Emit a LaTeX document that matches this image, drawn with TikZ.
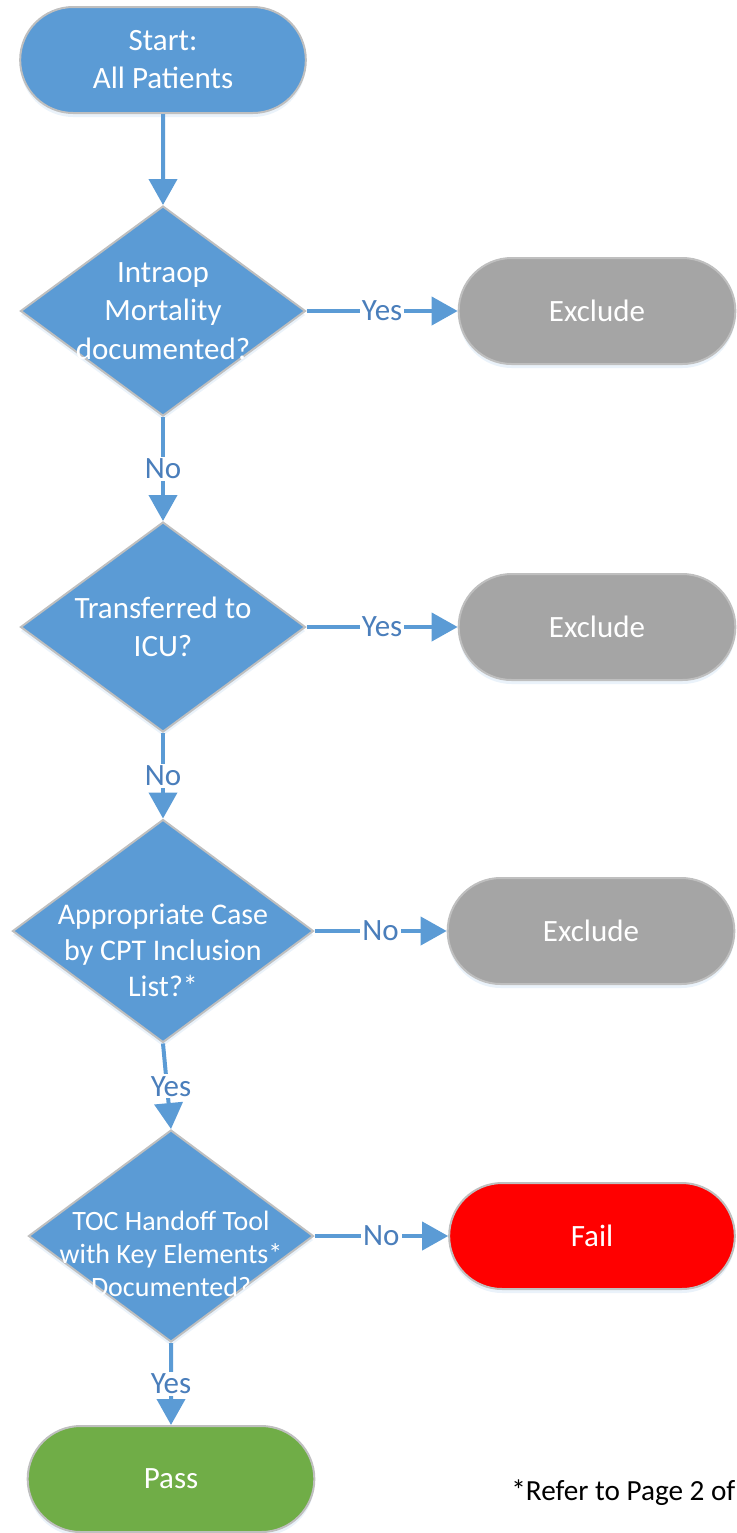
\documentclass[tikz,border=0pt]{standalone}
\usepackage{fontspec}
\setmainfont{Carlito}
\usepackage{tikz}
\usetikzlibrary{shapes.geometric, shapes.misc, arrows.meta, shadows}
\definecolor{flowblue}{HTML}{5B9BD5}
\definecolor{lblblue}{HTML}{4A7EBB}
\definecolor{rimgray}{HTML}{BFBFBF}
\definecolor{exgray}{HTML}{A5A5A5}
\definecolor{failred}{HTML}{FF0000}
\definecolor{passgreen}{HTML}{70AD47}
\begin{document}
\begin{tikzpicture}[x=0.5pt, y=-0.5pt,
  soft/.style={drop shadow={shadow xshift=0pt, shadow yshift=-2pt, opacity=0.25, fill=flowblue!50}},
  term/.style={rounded rectangle, draw=rimgray, line width=1pt, soft,
               minimum height=53pt, text=white, align=center,
               font=\fontsize{15.5}{19}\selectfont},
  decision/.style={diamond, draw=rimgray, line width=1pt, soft, fill=flowblue,
               inner sep=0pt, minimum width=142.5pt, minimum height=105pt},
  dtext/.style={text=white, align=center, font=\fontsize{15.5}{19.25}\selectfont},
  flow/.style={draw=flowblue, line width=2pt, -{Triangle[length=13pt, width=14pt]}},
  lbl/.style={fill=white, inner sep=1pt, text=lblblue, font=\fontsize{15.5}{18}\selectfont},
  note/.style={font=\fontsize{14.6}{18}\selectfont, inner sep=0pt}]
\useasboundingbox (0,0) rectangle (737,1533);
%
% terminals
\node[term, fill=flowblue, minimum width=149.5pt] (start) at (163,60) {Start:\\All Patients};
\node[term, fill=exgray, minimum width=145pt] (ex1) at (597,311) {Exclude};
\node[term, fill=exgray, minimum width=145pt] (ex2) at (597,627) {Exclude};
\node[term, fill=exgray, minimum width=150pt] (ex3) at (591,931) {Exclude};
\node[term, fill=failred, minimum width=149.5pt] (fail) at (592,1236) {Fail};
\node[term, fill=passgreen, minimum width=150pt] (pass) at (171,1479) {Pass};
%
% decisions
\node[decision] (d1) at (163,311) {};
\node[dtext] (d1t) at (d1) {Intraop\\Mortality\\documented?};
\node[decision] (d2) at (163,627) {};
\node[dtext] (d2t) at (d2) {Transferred to\\ICU?};
\node[decision, minimum width=150.5pt, minimum height=111.5pt] (d3) at (163,931) {};
\node[dtext, yshift=-9.5pt, font=\fontsize{15}{18}\selectfont] (d3t) at (d3) {Appropriate Case\\by CPT Inclusion\\List?*};
\node[decision, minimum height=106pt] (d4) at (171,1236) {};
\node[dtext, yshift=-9pt, font=\fontsize{14}{16.5}\selectfont] (d4t) at (d4) {TOC Handoff Tool\\with Key Elements*\\Documented?};
%
\node[note, anchor=base west] (fn) at (511,1500) {*Refer to Page 2 of};
%
% connectors
\draw[flow] (start) -- (d1);
\draw[flow] (d1) -- node[lbl] {Yes} (ex1);
\draw[flow] (d1) -- node[lbl] {No} (d2);
\draw[flow] (d2) -- node[lbl] {Yes} (ex2);
\draw[flow] (d2) -- node[lbl] {No} (d3);
\draw[flow] (d3) -- node[lbl] {No} (ex3);
\draw[flow] (d3.south) -- node[lbl, xshift=2pt] {Yes} (d4.north);
\draw[flow] (d4) -- node[lbl] {No} (fail);
\draw[flow] (d4) -- node[lbl] {Yes} (pass);
%
\end{tikzpicture}
\end{document}
